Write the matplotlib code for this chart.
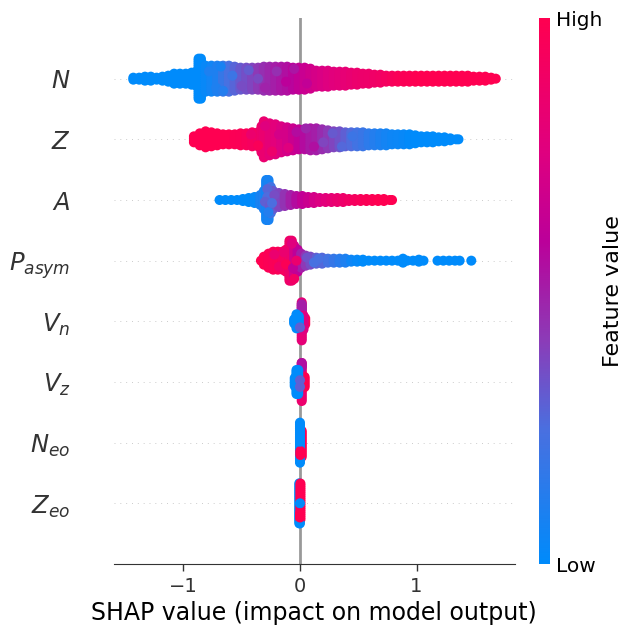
import numpy as np
import matplotlib
matplotlib.use("Agg")
import matplotlib.pyplot as plt
from matplotlib.colors import LinearSegmentedColormap


FEATURES = ["$N$", "$Z$", "$A$", "$P_{asym}$", "$V_n$", "$V_z$", "$N_{eo}$", "$Z_{eo}$"]

# each row: shap value of a stack, dots in that stack, feature value of that stack
n_x = [-1.43, -1.38, -1.33, -1.28, -1.23, -1.18, -1.13, -1.08, -1.03, -0.98, -0.93, -0.89, -0.87, -0.85,
       -0.81, -0.76, -0.71, -0.66, -0.61, -0.56, -0.51, -0.46, -0.41, -0.36, -0.31, -0.26, -0.21, -0.16,
       -0.11, -0.06, -0.01, 0.04, 0.09, 0.14, 0.19, 0.24, 0.29, 0.34, 0.39, 0.44, 0.49, 0.54, 0.59, 0.64,
       0.69, 0.74, 0.79, 0.84, 0.89, 0.94, 0.99, 1.04, 1.09, 1.14, 1.19, 1.24, 1.29, 1.34, 1.39, 1.44,
       1.49, 1.54, 1.59, 1.64, 1.68]
n_n = [2, 2, 3, 3, 2, 3, 4, 6, 6, 6, 7, 8, 21, 21,
       14, 14, 14, 14, 14, 13, 12, 12, 12, 12, 13, 13, 13, 13,
       13, 12, 12, 12, 11, 9, 9, 9, 8, 8, 8, 7, 7, 6, 6, 5,
       5, 4, 4, 4, 4, 4, 4, 4, 4, 4, 4, 4, 4, 4, 4, 4,
       3, 3, 3, 2, 1]
n_c = [0, 0, 0, 0, 0, 0, 0, 0, 0, 0, 0, 0, 0, 0,
       0.03, 0.06, 0.1, 0.18, 0.24, 0.28, 0.32, 0.35, 0.38, 0.42, 0.45, 0.48, 0.5, 0.53,
       0.55, 0.58, 0.62, 0.65, 0.68, 0.71, 0.73, 0.75, 0.77, 0.79, 0.81, 0.83, 0.85, 0.86, 0.87, 0.88,
       0.9, 0.92, 0.94, 0.96, 0.97, 0.98, 0.99, 1, 1, 1, 1, 1, 1, 1, 1, 1,
       1, 1, 1, 1, 1]
# single dots that stand out from their neighbours: value, shift off the row, feature value
n_dot_x = [-0.78, -0.72, -0.68, -0.66, -0.58, -0.5, -0.44, -0.36, -0.3, -0.2, -0.12, -0.05, 0.06]
n_dot_dy = [0.12, -0.15, 0.2, -0.2, 0.05, -0.12, 0.14, 0.0, -0.15, 0.12, -0.05, 0.16, -0.08]
n_dot_c = [0.1, 0.1, 0.08, 0.12, 0.2, 0.36, 0.31, 0.37, 0.49, 0.45, 0.59, 0.53, 0.62]

z_x = [-0.91, -0.86, -0.81, -0.76, -0.71, -0.66, -0.61, -0.56, -0.51, -0.46, -0.41, -0.36, -0.33, -0.31,
       -0.26, -0.21, -0.16, -0.11, -0.06, -0.01, 0.04, 0.09, 0.14, 0.19, 0.24, 0.29, 0.34, 0.39, 0.44,
       0.49, 0.54, 0.59, 0.64, 0.69, 0.74, 0.79, 0.84, 0.89, 0.94, 0.99, 1.04, 1.09, 1.14, 1.19, 1.24,
       1.29, 1.34, 1.36]
z_n = [4, 7, 9, 8, 7, 6, 6, 6, 7, 7, 8, 8, 14, 19,
       17, 16, 14, 13, 12, 11, 11, 12, 12, 11, 10, 9, 9, 8, 8,
       8, 8, 7, 7, 7, 7, 6, 6, 6, 6, 5, 4, 4, 4, 3, 3,
       2, 1, 1]
z_c = [1, 1, 1, 1, 1, 1, 1, 0.98, 0.97, 0.95, 0.93, 0.9, 0.86, 0.84,
       0.8, 0.78, 0.74, 0.7, 0.66, 0.62, 0.56, 0.52, 0.5, 0.46, 0.42, 0.38, 0.34, 0.3, 0.26,
       0.22, 0.19, 0.15, 0.12, 0.09, 0.07, 0.05, 0.04, 0.03, 0.01, 0, 0, 0, 0, 0, 0,
       0, 0, 0]
z_dot_x = [-0.42, -0.36, -0.3, -0.24, -0.18, -0.1, -0.03, 0.05, 0.12, 0.2, 0.28, 0.36, 0.45]
z_dot_dy = [0.08, -0.1, 0.22, -0.2, 0.08, -0.14, 0.12, 0.18, -0.12, -0.05, 0.1, -0.12, 0.05]
z_dot_c = [0.85, 0.96, 0.76, 0.86, 0.7, 0.76, 0.56, 0.48, 0.55, 0.38, 0.32, 0.27, 0.2]

a_x = [-0.69, -0.64, -0.59, -0.54, -0.49, -0.44, -0.39, -0.34, -0.31, -0.29, -0.27, -0.25, -0.23, -0.18,
       -0.13, -0.08, -0.03, 0.02, 0.07, 0.12, 0.17, 0.22, 0.27, 0.32, 0.37, 0.42, 0.47, 0.52, 0.57, 0.62,
       0.67, 0.72, 0.77, 0.79]
a_n = [1, 1, 1, 1, 2, 3, 4, 6, 10, 21, 21, 14, 10, 8,
       7, 6, 5, 5, 4, 4, 3, 3, 3, 3, 3, 2, 2, 2, 2, 2,
       2, 2, 1, 1]
a_c = [0, 0, 0, 0, 0, 0, 0.02, 0.08, 0.1, 0.06, 0.08, 0.22, 0.32, 0.38,
       0.44, 0.5, 0.56, 0.62, 0.66, 0.7, 0.74, 0.78, 0.81, 0.84, 0.87, 0.9, 0.93, 0.95, 0.97, 0.98,
       1, 1, 1, 1]
a_dot_x = [-0.28, -0.28, -0.3, -0.26, -0.27, -0.22, -0.24]
a_dot_dy = [0.18, 0.05, -0.03, -0.1, -0.2, 0.08, -0.05]
a_dot_c = [0.28, 0.26, 0.3, 0.32, 0.12, 0.36, 0.25]

p_x = [-0.335, -0.31, -0.27, -0.23, -0.19, -0.15, -0.12, -0.09, -0.07, -0.05, -0.02, 0.01, 0.05, 0.09,
       0.14, 0.19, 0.24, 0.29, 0.34, 0.39, 0.44, 0.49, 0.54, 0.59, 0.64, 0.69, 0.74, 0.79, 0.84, 0.884,
       0.92, 0.97, 1.02, 1.06, 1.18, 1.23, 1.28, 1.33, 1.37, 1.47]
p_n = [1, 5, 8, 10, 10, 10, 12, 21, 21, 16, 12, 8, 6, 5,
       4, 4, 3, 3, 3, 3, 2, 2, 2, 1, 1, 1, 1, 1, 1, 3,
       1, 1, 2, 1, 1, 1, 1, 1, 1, 1]
p_c = [1, 1, 0.98, 0.96, 0.97, 0.94, 0.92, 0.88, 0.86, 0.7, 0.6, 0.5, 0.42, 0.36,
       0.3, 0.27, 0.22, 0.18, 0.14, 0.1, 0.05, 0.02, 0, 0, 0, 0, 0, 0, 0, 0,
       0, 0, 0, 0, 0, 0, 0, 0, 0, 0]
p_dot_x = [-0.22, -0.18, -0.14, -0.12, -0.07, -0.06, -0.03, -0.05, 0.06, 0.12, 0.16]
p_dot_dy = [0.1, -0.1, 0.14, -0.06, 0.28, -0.12, 0.0, -0.3, 0.05, -0.03, 0.03]
p_dot_c = [0.84, 0.88, 0.84, 0.98, 0.76, 0.62, 0.85, 0.9, 0.34, 0.24, 0.24]

# the thin rows are mixed, so their stacks also carry a shift off the row centre
vn_x = [0.015, 0.015, 0.045, 0.03, -0.05, -0.03, -0.01, 0.0]
vn_n = [20, 4, 4, 8, 3, 8, 6, 1]
vn_c = [0.8, 0.5, 1, 0.75, 0, 0, 0, 0.3]
vn_dy = [0, 0.23, 0, -0.02, 0, 0, 0, -0.1]

vz_x = [0.015, 0.015, 0.04, -0.045, -0.03, -0.015, 0.0, 0.0]
vz_n = [20, 3, 6, 5, 13, 13, 1, 1]
vz_c = [0.85, 0.55, 1, 0, 0, 0, 0.3, 0.3]
vz_dy = [0, 0.28, 0, 0, 0, 0, 0.03, -0.08]

neo_x = [0.015, 0.0, 0.003, 0.0]
neo_n = [14, 21, 3, 3]
neo_c = [1, 0, 1, 0]
neo_dy = [-0.02, 0, -0.17, 0.05]

zeo_x = [-0.006, 0.004, 0.0, 0.0, 0.0]
zeo_n = [21, 19, 1, 1, 3]
zeo_c = [0, 1, 0, 0, 1]
zeo_dy = [0, 0.03, 0, -0.33, -0.2]

rows = [
    (n_x + n_dot_x, n_n + [1] * len(n_dot_x), n_c + n_dot_c, [0] * len(n_x) + n_dot_dy),
    (z_x + z_dot_x, z_n + [1] * len(z_dot_x), z_c + z_dot_c, [0] * len(z_x) + z_dot_dy),
    (a_x + a_dot_x, a_n + [1] * len(a_dot_x), a_c + a_dot_c, [0] * len(a_x) + a_dot_dy),
    (p_x + p_dot_x, p_n + [1] * len(p_dot_x), p_c + p_dot_c, [0] * len(p_x) + p_dot_dy),
    (vn_x, vn_n, vn_c, vn_dy),
    (vz_x, vz_n, vz_c, vz_dy),
    (neo_x, neo_n, neo_c, neo_dy),
    (zeo_x, zeo_n, zeo_c, zeo_dy),
]

TEXT = "#333333"
W, H = 623, 626
STEP = 0.033  # gap between dots of a stack, in rows

red_blue = LinearSegmentedColormap.from_list("red_blue", [
    (0, "#008bfb"), (0.245, "#4a70e0"), (0.41, "#8c3cb8"), (0.5, "#a31fa8"),
    (0.593, "#bc009a"), (0.758, "#e0007f"), (1, "#ff0051"),
])

fig = plt.figure(figsize=(W / 100, H / 100), dpi=100)
ax = fig.add_axes([113.5 / W, 1 - 564 / H, (515 - 113.5) / W, (564 - 18) / H])

ax.axvline(0, color="#999999", lw=2, zorder=-1)
for i, (xs, ns, cs, dys) in enumerate(rows):
    y0 = len(rows) - 1 - i
    ax.axhline(y0, color="#cccccc", lw=0.7, dashes=(1, 5), zorder=-1)
    px, py, pc = [], [], []
    for j in range(len(xs)):
        offsets = (np.arange(ns[j]) - (ns[j] - 1) / 2) * STEP
        px += [xs[j]] * ns[j]
        py += list(y0 + dys[j] + offsets)
        pc += [cs[j]] * ns[j]
    ax.scatter(px, py, c=pc, s=52, cmap=red_blue, vmin=0, vmax=1, linewidths=0, zorder=3)

ax.set_xlim(-1.60, 1.845)
ax.set_ylim(-1, 8)
ax.set_yticks(range(len(rows)))
ax.set_yticklabels(FEATURES[::-1], fontsize=17.5, color=TEXT)
ax.set_xticks([-1, 0, 1])
ax.set_xticklabels(["\u22121", "0", "1"])
ax.tick_params(axis="y", length=0, pad=31)
ax.tick_params(axis="x", labelsize=14, length=5, width=1, color=TEXT, labelcolor=TEXT, pad=4)
for side in ["top", "left", "right"]:
    ax.spines[side].set_visible(False)
ax.spines["bottom"].set_color(TEXT)
ax.set_xlabel("SHAP value (impact on model output)", fontsize=17, color="black", labelpad=4)

# colour bar
cax = fig.add_axes([539 / W, 1 - 564 / H, 11 / W, (564 - 18) / H])
cax.imshow(np.linspace(1, 0, 256).reshape(-1, 1), cmap=red_blue, aspect="auto", extent=[0, 1, 0, 1])
cax.set_xticks([])
cax.yaxis.tick_right()
cax.set_yticks([0, 1])
cax.set_yticklabels(["Low", "High"], fontsize=14.5)
cax.tick_params(axis="y", length=0, pad=4)
for s in cax.spines.values():
    s.set_visible(False)
cax.yaxis.set_label_position("right")
cax.set_ylabel("Feature value", fontsize=16, labelpad=1)

plt.savefig("out.png", dpi=100)
